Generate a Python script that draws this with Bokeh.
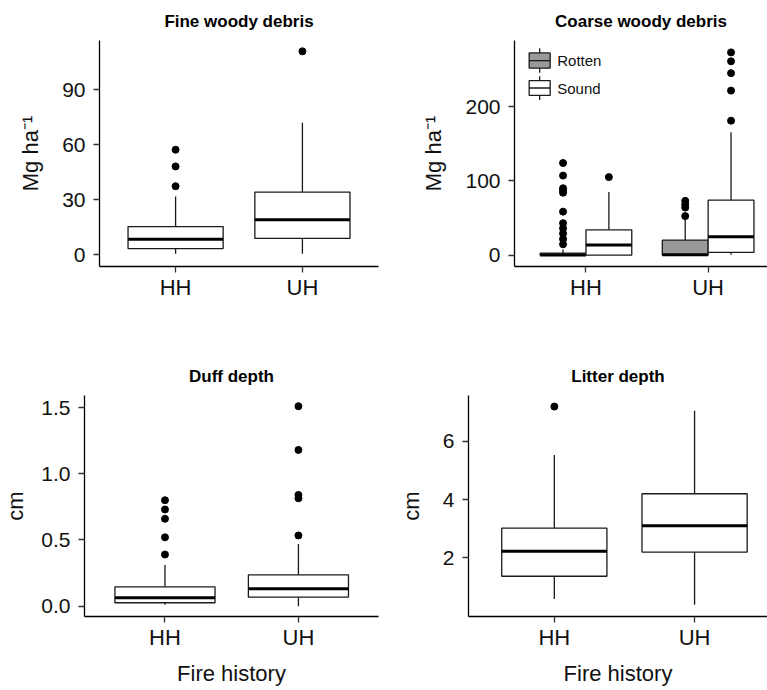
from bokeh.plotting import figure
from bokeh.models import Range1d, FixedTicker, ColumnDataSource, NumeralTickFormatter, Label
from bokeh.layouts import column, row
from bokeh.embed import file_html
from bokeh.resources import INLINE

FONT = "Liberation Sans"
INK = "#1a1a1a"
TEXT = "#111111"

fire_history = ["HH", "UH"]

# Fine woody debris (Mg ha-1): whisker ends, quartiles, medians and outliers
fwd_lower = [0.5, 0.5]
fwd_q1 = [3.4, 8.9]
fwd_median = [8.5, 19.1]
fwd_q3 = [15.4, 34.2]
fwd_upper = [31.8, 72.0]
fwd_outliers = [[37.4, 48.2, 57.3], [111.0]]

# Coarse woody debris (Mg ha-1), split by decay class
decay_class = ["Rotten", "Sound"]
cwd_rotten_lower = [0.0, 0.0]
cwd_rotten_q1 = [0.0, 0.0]
cwd_rotten_median = [0.0, 0.5]
cwd_rotten_q3 = [2.5, 20.1]
cwd_rotten_upper = [7.5, 48.0]
cwd_rotten_outliers = [[14.5, 21.5, 29.0, 36.0, 43.0, 58.5, 84.0, 87.0, 90.0, 107.0, 124.0],
                       [52.5, 64.0, 68.0, 73.0]]
cwd_sound_lower = [0.0, 0.5]
cwd_sound_q1 = [0.0, 3.5]
cwd_sound_median = [13.4, 24.6]
cwd_sound_q3 = [34.0, 74.0]
cwd_sound_upper = [85.0, 165.5]
cwd_sound_outliers = [[105.0], [181.0, 221.5, 245.0, 261.0, 273.0]]

# Duff depth (cm)
duff_lower = [0.01, 0.0]
duff_q1 = [0.026, 0.068]
duff_median = [0.063, 0.131]
duff_q3 = [0.146, 0.237]
duff_upper = [0.31, 0.47]
duff_outliers = [[0.39, 0.52, 0.66, 0.73, 0.80], [0.534, 0.815, 0.84, 1.18, 1.51]]

# Litter depth (cm)
litter_lower = [0.59, 0.39]
litter_q1 = [1.37, 2.2]
litter_median = [2.23, 3.1]
litter_q3 = [3.02, 4.2]
litter_upper = [5.53, 7.05]
litter_outliers = [[7.19], []]

fill_by_class = {"Rotten": "#999999", "Sound": "#ffffff"}

BOX_WIDTH = 0.75
x_pos = [i + 1 for i in range(len(fire_history))]
x_labels = {i + 1: name for i, name in enumerate(fire_history)}


def draw_boxes(p, xs, lower, q1, med, q3, upper, outliers, width, fill):
    src = ColumnDataSource(dict(
        x=xs, lower=lower, q1=q1, med=med, q3=q3, upper=upper,
        left=[x - width / 2 for x in xs], right=[x + width / 2 for x in xs],
    ))
    p.segment(x0="x", y0="q3", x1="x", y1="upper", source=src, line_color=INK, line_width=1.3)
    p.segment(x0="x", y0="lower", x1="x", y1="q1", source=src, line_color=INK, line_width=1.3)
    p.vbar(x="x", width=width, bottom="q1", top="q3", source=src,
           fill_color=fill, line_color=INK, line_width=1.3)
    p.segment(x0="left", y0="med", x1="right", y1="med", source=src,
              line_color="black", line_width=3, line_cap="butt")
    ox = [x for x, vals in zip(xs, outliers) for _ in vals]
    oy = [v for vals in outliers for v in vals]
    p.scatter(ox, oy, size=7, fill_color="black", line_color="black")


def make_panel(title, ylabel, xlabel, x_range, y_range, yticks, width, height,
               left, right, top, bottom, ylabel_standoff=16):
    p = figure(width=width, height=height, output_backend="svg", toolbar_location=None,
               x_range=Range1d(*x_range), y_range=Range1d(*y_range),
               min_border_left=left, min_border_right=right,
               min_border_top=top, min_border_bottom=bottom)
    p.outline_line_color = None
    p.xgrid.visible = False
    p.ygrid.visible = False
    p.background_fill_color = "white"
    p.border_fill_color = "white"

    p.title.text = title
    p.title.align = "center"
    p.title.text_font = FONT
    p.title.text_font_size = "17px"
    p.title.text_font_style = "bold"
    p.title.text_color = "black"
    p.title.standoff = 19

    p.xaxis.ticker = FixedTicker(ticks=x_pos, minor_ticks=[])
    p.xaxis.major_label_overrides = x_labels
    p.yaxis.ticker = FixedTicker(ticks=yticks, minor_ticks=[])

    for ax in (p.xaxis[0], p.yaxis[0]):
        ax.axis_line_color = "black"
        ax.axis_line_width = 1.3
        ax.major_tick_line_color = "#333333"
        ax.major_tick_line_width = 1.3
        ax.major_tick_out = 6
        ax.major_tick_in = 0
        ax.minor_tick_line_color = None
        ax.major_label_text_font = FONT
        ax.major_label_text_color = TEXT
        ax.axis_label_text_font = FONT
        ax.axis_label_text_font_size = "22px"
        ax.axis_label_text_font_style = "normal"
        ax.axis_label_text_color = TEXT

    p.yaxis.major_label_text_font_size = "21px"
    p.xaxis.major_label_text_font_size = "22px"
    p.yaxis.major_label_standoff = 8
    p.xaxis.major_label_standoff = 2
    p.yaxis.axis_label = ylabel
    p.yaxis.axis_label_standoff = ylabel_standoff
    if xlabel:
        p.xaxis.axis_label = xlabel
        p.xaxis.axis_label_standoff = 8
    return p


# Top row
p1 = make_panel("Fine woody debris", "Mg ha\u207b\u00b9", None,
                (0.4, 2.6), (-6.4, 116.9), [0, 30, 60, 90],
                395, 355, 99, 17, 40, 89)
draw_boxes(p1, x_pos, fwd_lower, fwd_q1, fwd_median, fwd_q3, fwd_upper,
           fwd_outliers, BOX_WIDTH, "white")

p2 = make_panel("Coarse woody debris", "Mg ha\u207b\u00b9", None,
                (0.415, 2.486), (-15.4, 289.0), [0, 100, 200],
                372, 355, 119, 0, 40, 89)
dodge_w = BOX_WIDTH / 2
rotten_x = [x - dodge_w / 2 for x in x_pos]
sound_x = [x + dodge_w / 2 for x in x_pos]
draw_boxes(p2, rotten_x, cwd_rotten_lower, cwd_rotten_q1, cwd_rotten_median, cwd_rotten_q3,
           cwd_rotten_upper, cwd_rotten_outliers, dodge_w, fill_by_class["Rotten"])
draw_boxes(p2, sound_x, cwd_sound_lower, cwd_sound_q1, cwd_sound_median, cwd_sound_q3,
           cwd_sound_upper, cwd_sound_outliers, dodge_w, fill_by_class["Sound"])

# Legend keys drawn as miniature boxplots in the upper-left corner
key_left, key_right = 0.535, 0.707
key_cx = (key_left + key_right) / 2
key_rows = [(262.0, 10.3, 16.6), (225.0, 10.0, 16.0)]  # centre, half box, half whisker
for cls, (cy, hb, hw) in zip(decay_class, key_rows):
    p2.segment(x0=[key_cx, key_cx], y0=[cy + hb, cy - hb], x1=[key_cx, key_cx],
               y1=[cy + hw, cy - hw], line_color=INK, line_width=1.3)
    p2.quad(left=[key_left], right=[key_right], bottom=[cy - hb], top=[cy + hb],
            fill_color=fill_by_class[cls], line_color=INK, line_width=1.3)
    p2.segment(x0=[key_left], y0=[cy], x1=[key_right], y1=[cy],
               line_color=INK, line_width=1.3)
    p2.add_layout(Label(x=0.765, y=cy, text=cls, text_font=FONT, text_font_size="15px",
                        text_baseline="middle", text_color=TEXT))

# Bottom row
p3 = make_panel("Duff depth", "cm", "Fire history",
                (0.397, 2.6), (-0.078, 1.591), [0, 0.5, 1.0, 1.5],
                395, 335, 82, 17, 40, 74, ylabel_standoff=10)
p3.yaxis.formatter = NumeralTickFormatter(format="0.0")
draw_boxes(p3, x_pos, duff_lower, duff_q1, duff_median, duff_q3, duff_upper,
           duff_outliers, BOX_WIDTH, "white")

p4 = make_panel("Litter depth", "cm", "Fire history",
                (0.388, 2.52), (-0.01, 7.57), [2, 4, 6],
                372, 335, 70, 0, 40, 74)
draw_boxes(p4, x_pos, litter_lower, litter_q1, litter_median, litter_q3, litter_upper,
           litter_outliers, BOX_WIDTH, "white")

layout = column(row(p1, p2), row(p3, p4))
open("out.html", "w").write(file_html(layout, INLINE))
